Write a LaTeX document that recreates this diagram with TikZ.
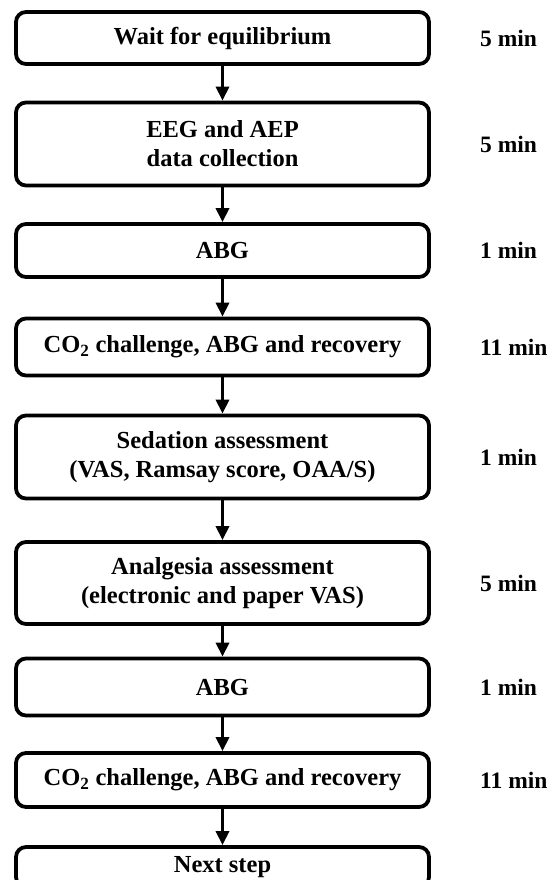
\documentclass[tikz,border=0pt]{standalone}
\usepackage{fontspec}
\setmainfont{Liberation Serif}
\usetikzlibrary{arrows.meta}
\begin{document}
\begin{tikzpicture}[x=1pt,y=-1pt,
  box/.style={draw, line width=3.8pt, rounded corners=10pt, minimum width=413pt, inner sep=0pt, align=center, font=\fontsize{24.5}{29}\selectfont\bfseries},
  lbl/.style={anchor=west, inner sep=0pt, font=\fontsize{23.5}{27}\selectfont\bfseries},
  flow/.style={line width=3.4pt, -{Triangle[width=13pt,length=14pt]}}]
\useasboundingbox (0,0) rectangle (553,880);
\clip (0,0) rectangle (553,880);
\node[box, minimum height=52pt] (b1) at (222.5,38) {Wait for equilibrium};
\node[box, minimum height=83pt] (b2) at (222.5,144) {EEG and AEP\\data collection};
\node[box, minimum height=53pt] (b3) at (222.5,250.5) {ABG};
\node[box, minimum height=57pt] (b4) at (222.5,347) {CO\textsubscript{2} challenge, ABG and recovery};
\node[box, minimum height=83pt] (b5) at (222.5,457) {Sedation assessment\\(VAS, Ramsay score, OAA/S)};
\node[box, minimum height=82pt] (b6) at (222.5,583) {Analgesia assessment\\(electronic and paper VAS)};
\node[box, minimum height=57pt] (b7) at (222.5,687) {ABG};
\node[box, minimum height=54pt] (b8) at (222.5,780) {CO\textsubscript{2} challenge, ABG and recovery};
\node[box, minimum height=40pt] (b9) at (222.5,867) {Next step};
\node[lbl] (t1) at (480,38) {5 min};
\node[lbl] (t2) at (480,144) {5 min};
\node[lbl] (t3) at (480,250.5) {1 min};
\node[lbl] (t4) at (480,347) {11 min};
\node[lbl] (t5) at (480,457) {1 min};
\node[lbl] (t6) at (480,583) {5 min};
\node[lbl] (t7) at (480,687) {1 min};
\node[lbl] (t8) at (480,780) {11 min};
\draw[flow] (b1) -- (b2);
\draw[flow] (b2) -- (b3);
\draw[flow] (b3) -- (b4);
\draw[flow] (b4) -- (b5);
\draw[flow] (b5) -- (b6);
\draw[flow] (b6) -- (b7);
\draw[flow] (b7) -- (b8);
\draw[flow] (b8) -- (b9);
\end{tikzpicture}
\end{document}
